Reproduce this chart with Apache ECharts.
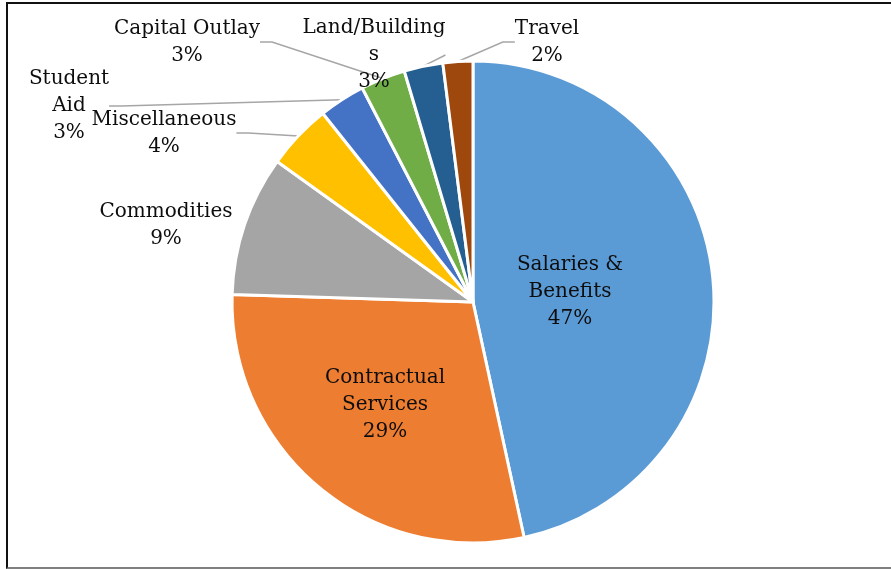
<!DOCTYPE html>
<html>
<head>
<meta charset="utf-8">
<script src="https://cdn.jsdelivr.net/npm/echarts@6/dist/echarts.min.js"></script>
<style>
  html, body { margin: 0; padding: 0; background: #fff; overflow: hidden; }
  #chart { position: absolute; left: 0; top: 0; width: 891px; height: 569px; }
  #frame {
    position: absolute; left: 6px; top: 2px; width: 885px; height: 563px;
    border-left: 2px solid #111; border-top: 2px solid #111; border-bottom: 2px solid #808080;
    pointer-events: none;
  }
</style>
</head>
<body>
<div id="chart"></div>
<div id="frame"></div>
<script>
// Budget expenditure shares (percent of total), clockwise from 12 o'clock
const categories = [
  'Salaries & Benefits', 'Contractual Services', 'Commodities', 'Miscellaneous',
  'Student Aid', 'Capital Outlay', 'Land/Buildings', 'Travel'
];
const shares = [46.6, 28.9, 9.4, 4.4, 3.1, 3.0, 2.6, 2.0];
const colors = ['#5B9BD5', '#ED7D31', '#A5A5A5', '#FFC000', '#4472C4', '#70AD47', '#255E91', '#9E480E'];

// How each category name wraps in its label
const wrappedNames = {
  'Salaries & Benefits': 'Salaries &\nBenefits',
  'Contractual Services': 'Contractual\nServices',
  'Student Aid': 'Student\nAid',
  'Land/Buildings': 'Land/Building\ns'
};
// Label block centres (layout only)
const labelCentres = [
  [570, 292], [385, 405], [166, 225], [164, 133],
  [69, 106], [187, 42], [374, 55], [547, 42]
];
const noLeader = ['Salaries & Benefits', 'Contractual Services', 'Commodities'];

const chart = echarts.init(document.getElementById('chart'), null, { renderer: 'canvas' });
chart.setOption({
  backgroundColor: 'transparent',
  animation: false,
  series: [{
    type: 'pie',
    center: [473, 302],
    radius: 241,
    startAngle: 90,
    clockwise: true,
    avoidLabelOverlap: false,
    itemStyle: { borderColor: '#fff', borderWidth: 3 },
    label: {
      show: true,
      fontFamily: 'DejaVu Serif',
      fontSize: 20,
      lineHeight: 27,
      color: '#0d0d0d',
      align: 'center',
      formatter: p => (wrappedNames[p.name] || p.name) + '\n' + Math.round(p.value) + '%'
    },
    labelLine: {
      show: true,
      length: 10,
      length2: 12,
      lineStyle: { color: '#A6A6A6', width: 1.5 }
    },
    labelLayout: p => ({
      x: labelCentres[p.dataIndex][0],
      y: labelCentres[p.dataIndex][1],
      align: 'center',
      verticalAlign: 'middle'
    }),
    data: categories.map((name, i) => ({
      name,
      value: shares[i],
      itemStyle: { color: colors[i] },
      labelLine: { show: noLeader.indexOf(name) < 0 }
    }))
  }]
});
</script>
</body>
</html>
